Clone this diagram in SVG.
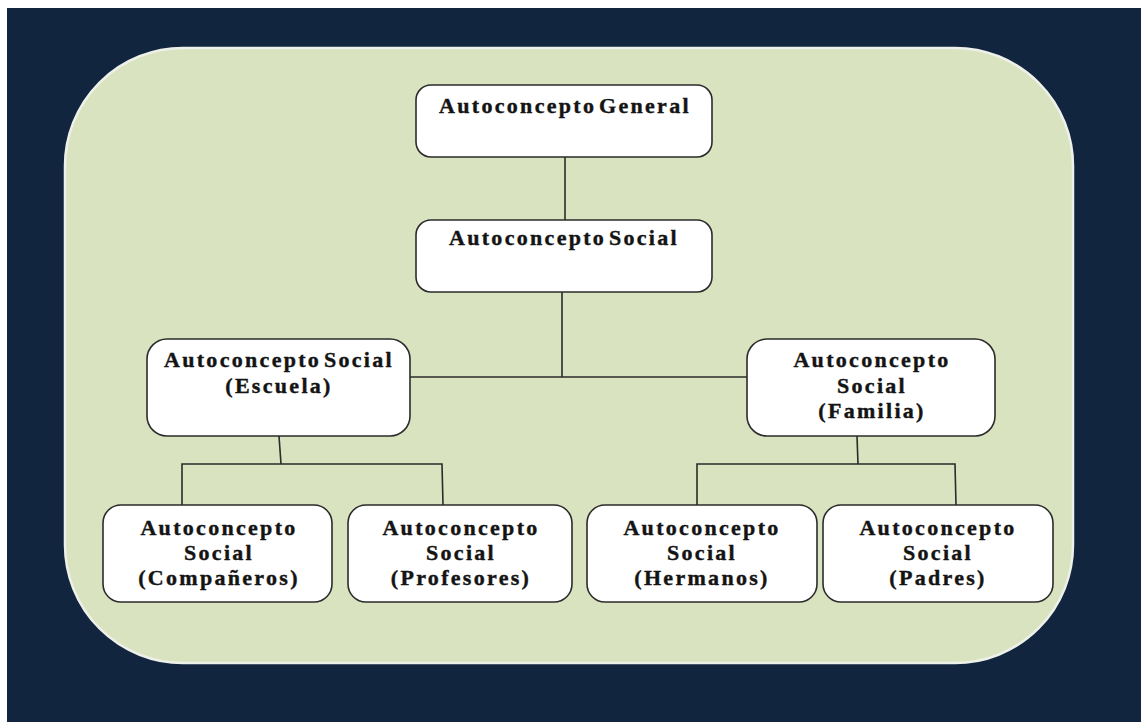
<svg xmlns="http://www.w3.org/2000/svg" width="1141" height="722" viewBox="0 0 1141 722">
  <style>
    .box { fill: #ffffff; stroke: #2b2b2b; stroke-width: 1.6; }
    .lbl { font-family: "Liberation Serif", "Times New Roman", serif; font-weight: bold; font-size: 22px; fill: #141414; stroke: #141414; stroke-width: 0.4; text-anchor: middle; letter-spacing: 2.3px; word-spacing: -5px; }
    .wire { stroke: #2b2b2b; stroke-width: 1.6; fill: none; }
  </style>
  <!-- page and backdrop -->
  <rect x="0" y="0" width="1141" height="722" fill="#ffffff"/>
  <rect x="7" y="8" width="1134" height="714" fill="#12253f"/>
  <rect x="65" y="48" width="1008" height="615" rx="118" ry="118" fill="#d9e3bf" stroke="#eef0ea" stroke-width="2.5"/>

  <!-- connectors -->
  <g id="connectors">
    <line class="wire" x1="565" y1="157" x2="565" y2="220"/>
    <line class="wire" x1="562" y1="292" x2="562" y2="377"/>
    <line class="wire" x1="410" y1="377" x2="747" y2="377"/>
    <polyline class="wire" points="279,436 281,464"/>
    <polyline class="wire" points="182,505 182,464 442,464 443,505"/>
    <polyline class="wire" points="857,436 858,464"/>
    <polyline class="wire" points="697,505 697,464 955,464 956,505"/>
  </g>

  <g id="general">
    <rect class="box" x="416" y="85" width="296" height="72" rx="15"/>
    <text class="lbl" x="565" y="113">Autoconcepto General</text>
  </g>

  <g id="social">
    <rect class="box" x="416" y="220" width="296" height="72" rx="15"/>
    <text class="lbl" x="564" y="245">Autoconcepto Social</text>
  </g>

  <g id="escuela">
    <rect class="box" x="147" y="339" width="263" height="97" rx="20"/>
    <text class="lbl" x="279" y="367">Autoconcepto Social</text>
    <text class="lbl" x="279" y="393">(Escuela)</text>
  </g>

  <g id="familia">
    <rect class="box" x="747" y="339" width="248" height="97" rx="20"/>
    <text class="lbl" x="872" y="367">Autoconcepto</text>
    <text class="lbl" x="872" y="393">Social</text>
    <text class="lbl" x="872" y="418">(Familia)</text>
  </g>

  <g id="companeros">
    <rect class="box" x="103" y="505" width="229" height="97" rx="18"/>
    <text class="lbl" x="219" y="535">Autoconcepto</text>
    <text class="lbl" x="219" y="560">Social</text>
    <text class="lbl" x="219" y="585">(Compañeros)</text>
  </g>

  <g id="profesores">
    <rect class="box" x="348" y="505" width="224" height="97" rx="18"/>
    <text class="lbl" x="461" y="535">Autoconcepto</text>
    <text class="lbl" x="461" y="560">Social</text>
    <text class="lbl" x="461" y="585">(Profesores)</text>
  </g>

  <g id="hermanos">
    <rect class="box" x="587" y="505" width="230" height="97" rx="18"/>
    <text class="lbl" x="702" y="535">Autoconcepto</text>
    <text class="lbl" x="702" y="560">Social</text>
    <text class="lbl" x="702" y="585">(Hermanos)</text>
  </g>

  <g id="padres">
    <rect class="box" x="823" y="505" width="230" height="97" rx="18"/>
    <text class="lbl" x="938" y="535">Autoconcepto</text>
    <text class="lbl" x="938" y="560">Social</text>
    <text class="lbl" x="938" y="585">(Padres)</text>
  </g>
</svg>
